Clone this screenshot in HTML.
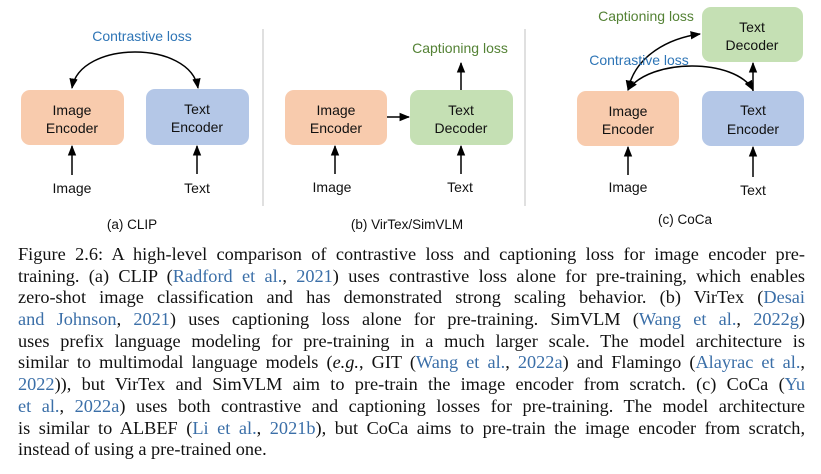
<!DOCTYPE html>
<html><head><meta charset="utf-8"><style>
body{margin:0;background:#fff;width:821px;height:474px;overflow:hidden;position:relative}
svg{position:absolute;left:0;top:0}
.cap{position:absolute;left:18px;top:244px;width:787px;font-family:"Liberation Serif",serif;font-size:18.3px;line-height:21.7px;color:#111}
.cap div{text-align:justify;text-align-last:justify;white-space:nowrap;height:21.7px}
.cap div.l{text-align-last:left}
a{color:#3b6fa8;text-decoration:none}
</style></head><body>
<svg width="821" height="240" font-family="Liberation Sans, sans-serif" font-size="14">
<defs><marker id="a" viewBox="0 0 10 10" refX="9" refY="5" markerWidth="7" markerHeight="7" orient="auto-start-reverse"><path d="M0,1 L10,5 L0,9z" fill="#000"/></marker></defs>
<g stroke="none">
<rect x="21" y="90" width="103" height="55" rx="9" fill="#f8cbad"/>
<rect x="146" y="89" width="103" height="56" rx="9" fill="#b4c7e7"/>
<rect x="285" y="90" width="102" height="55" rx="9" fill="#f8cbad"/>
<rect x="410" y="90" width="103" height="55" rx="9" fill="#c5e0b4"/>
<rect x="577" y="91" width="102" height="55" rx="9" fill="#f8cbad"/>
<rect x="702" y="91" width="102" height="55" rx="9" fill="#b4c7e7"/>
<rect x="702" y="7" width="101" height="55" rx="9" fill="#c5e0b4"/>
</g>
<line x1="263" y1="29" x2="263" y2="206" stroke="#ccc" stroke-width="1.2"/>
<line x1="525" y1="29" x2="525" y2="206" stroke="#ccc" stroke-width="1.2"/>
<g stroke="#000" stroke-width="1.5" fill="none">
<path d="M72,88 C80,40 190,40 198,88" marker-start="url(#a)" marker-end="url(#a)"/>
<line x1="72" y1="175" x2="72" y2="146" marker-end="url(#a)"/>
<line x1="197" y1="174" x2="197" y2="146" marker-end="url(#a)"/>
<line x1="335" y1="174" x2="335" y2="146" marker-end="url(#a)"/>
<line x1="461" y1="174" x2="461" y2="146" marker-end="url(#a)"/>
<line x1="387" y1="117" x2="409" y2="117" marker-end="url(#a)"/>
<line x1="461" y1="90" x2="461" y2="63" marker-end="url(#a)"/>
<line x1="628" y1="175" x2="628" y2="147" marker-end="url(#a)"/>
<line x1="753" y1="177" x2="753" y2="147" marker-end="url(#a)"/>
<line x1="753" y1="91" x2="753" y2="63" marker-end="url(#a)"/>
<path d="M628,90 C635,55 670,38 700,34" marker-start="url(#a)" marker-end="url(#a)"/>
<path d="M628,90 C650,58 735,58 753,90" marker-start="url(#a)" marker-end="url(#a)"/>
</g>
<g text-anchor="middle" fill="#111">
<text x="72" y="115">Image</text><text x="72" y="133">Encoder</text>
<text x="197" y="114">Text</text><text x="197" y="132">Encoder</text>
<text x="336" y="115">Image</text><text x="336" y="133">Encoder</text>
<text x="461" y="115">Text</text><text x="461" y="133">Decoder</text>
<text x="628" y="116">Image</text><text x="628" y="134">Encoder</text>
<text x="753" y="115">Text</text><text x="753" y="134">Encoder</text>
<text x="752" y="32">Text</text><text x="752" y="50">Decoder</text>
<text x="72" y="193">Image</text><text x="197" y="193">Text</text>
<text x="332" y="192">Image</text><text x="460" y="192">Text</text>
<text x="628" y="192">Image</text><text x="753" y="195">Text</text>
<text x="132" y="229" font-size="13.5">(a) CLIP</text>
<text x="407" y="229" font-size="13.5">(b) VirTex/SimVLM</text>
<text x="685" y="224" font-size="13.5">(c) CoCa</text>
<text x="142" y="41" fill="#2e75b6">Contrastive loss</text>
<text x="639" y="65" fill="#2e75b6">Contrastive loss</text>
<text x="460" y="53" fill="#548235">Captioning loss</text>
<text x="646" y="21" fill="#548235">Captioning loss</text>
</g>
</svg>
<div class="cap">
<div>Figure 2.6: A high-level comparison of contrastive loss and captioning loss for image encoder pre-</div>
<div>training. (a) CLIP (<a>Radford et al.</a>, <a>2021</a>) uses contrastive loss alone for pre-training, which enables</div>
<div>zero-shot image classification and has demonstrated strong scaling behavior. (b) VirTex (<a>Desai</a></div>
<div><a>and Johnson</a>, <a>2021</a>) uses captioning loss alone for pre-training. SimVLM (<a>Wang et al.</a>, <a>2022g</a>)</div>
<div>uses prefix language modeling for pre-training in a much larger scale. The model architecture is</div>
<div>similar to multimodal language models (<i>e.g.</i>, GIT (<a>Wang et al.</a>, <a>2022a</a>) and Flamingo (<a>Alayrac et al.</a>,</div>
<div><a>2022</a>)), but VirTex and SimVLM aim to pre-train the image encoder from scratch. (c) CoCa (<a>Yu</a></div>
<div><a>et al.</a>, <a>2022a</a>) uses both contrastive and captioning losses for pre-training. The model architecture</div>
<div>is similar to ALBEF (<a>Li et al.</a>, <a>2021b</a>), but CoCa aims to pre-train the image encoder from scratch,</div>
<div class="l">instead of using a pre-trained one.</div>
</div>
</body></html>
